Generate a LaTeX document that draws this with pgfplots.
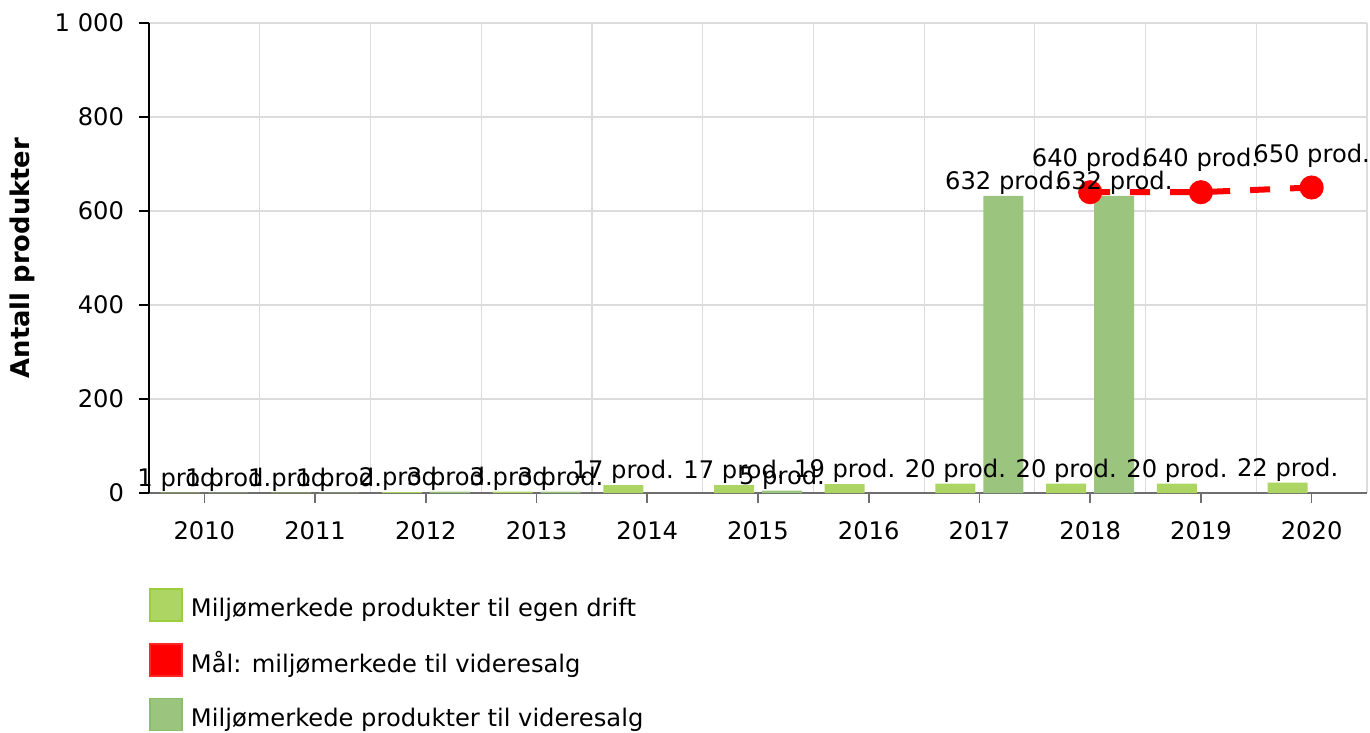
\documentclass[border=0pt]{standalone}
\usepackage{fontspec}
\setmainfont{DejaVu Sans}
\usepackage{pgfplots}
\pgfplotsset{compat=1.18}
\definecolor{egen}{HTML}{ADD563}
\definecolor{egenb}{HTML}{9CCD3C}
\definecolor{vid}{HTML}{9BC57F}
\definecolor{vidb}{HTML}{8BBE6B}
\definecolor{gridc}{HTML}{DCDCDC}
\definecolor{axc}{HTML}{6E6E6E}
\newcommand{\fs}{\fontsize{12.1}{14.5}\selectfont}
\begin{document}
\begin{tikzpicture}
\begin{axis}[
  scale only axis, width=609pt, height=235pt,
  at={(0,0)}, anchor=south west,
  xmin=2009.5, xmax=2020.5, ymin=0, ymax=1000,
  clip=false,
  axis x line*=bottom, axis y line*=left,
  x axis line style={draw=axc, line width=0.8pt},
  y axis line style={draw=black, line width=0.8pt},
  xtick={2010,2011,2012,2013,2014,2015,2016,2017,2018,2019,2020},
  xticklabels={2010,2011,2012,2013,2014,2015,2016,2017,2018,2019,2020},
  minor xtick={2009.5,2010.5,2011.5,2012.5,2013.5,2014.5,2015.5,2016.5,2017.5,2018.5,2019.5,2020.5},
  xminorgrids=true, ymajorgrids=true,
  major grid style={gridc, line width=0.6pt},
  minor grid style={gridc, line width=0.6pt},
  ytick={0,200,400,600,800,1000},
  yticklabels={0,200,400,600,800,1 000},
  tick align=outside, major tick length=5pt, minor tick length=0pt,
  major x tick style={axc, line width=0.8pt},
  major y tick style={black, line width=0.8pt},
  xticklabel style={font=\fs, yshift=-5.5pt},
  yticklabel style={font=\fs, xshift=-4pt},
  ylabel={\bfseries Antall produkter},
  ylabel style={at={(axis description cs:-0.1043,0.5)}, anchor=center, font=\fontsize{12.9}{15}\selectfont},
  /pgf/number format/assume math mode=true,
  lbl/.style 2 args={nodes near coords={\pgfmathprintnumber{\pgfplotspointmeta} prod.},
    every node near coord/.append style={font=\fs, inner sep=0pt, anchor=center, text=black, yshift=#1, xshift=#2}},
  legend style={at={(axis description cs:0,0)}, anchor=north west, yshift=-47.5pt,
    draw=none, fill=none, inner sep=0pt, row sep=10.5pt, font=\fs,
    nodes={inner sep=0pt},
    /tikz/every odd column/.append style={column sep=4pt}},
  legend cell align=left,
]
\addplot[ybar, bar width=20pt, bar shift=-12pt, fill=egen, draw=none, lbl={6.5pt}{-12pt},
  legend image code/.code={\draw[fill=egen, draw=egenb, line width=0.8pt] (0pt,-6pt) rectangle (16pt,10pt);}]
  coordinates {(2010,1) (2011,1) (2012,2) (2013,3) (2014,17) (2015,17) (2016,19) (2017,20) (2018,20) (2019,20) (2020,22)};
\addlegendentry{Miljømerkede produkter til egen drift}
\addplot[red, line width=3pt, dash pattern=on 10pt off 10pt, mark=*, mark size=4.5pt,
  mark options={solid, fill=red}, lbl={16pt}{0pt},
  legend image code/.code={\draw[solid, fill=red, draw=red!85!white, line width=0.8pt] (0pt,-6pt) rectangle (16pt,10pt);}]
  coordinates {(2018,640) (2019,640) (2020,650)};
\addlegendentry{Mål: miljømerkede til videresalg}
\addplot[ybar, bar width=20pt, bar shift=12pt, fill=vid, draw=none, lbl={6.5pt}{12pt},
  legend image code/.code={\draw[fill=vid, draw=vidb, line width=0.8pt] (0pt,-6pt) rectangle (16pt,10pt);}]
  coordinates {(2010,1) (2011,1) (2012,3) (2013,3) (2015,5) (2017,632) (2018,632)};
\addlegendentry{Miljømerkede produkter til videresalg}
\end{axis}
\pgfresetboundingbox
\path ([xshift=-74.5pt,yshift=-120pt]current axis.south west) rectangle ([xshift=1.5pt,yshift=11.5pt]current axis.north east);
\end{tikzpicture}
\end{document}
